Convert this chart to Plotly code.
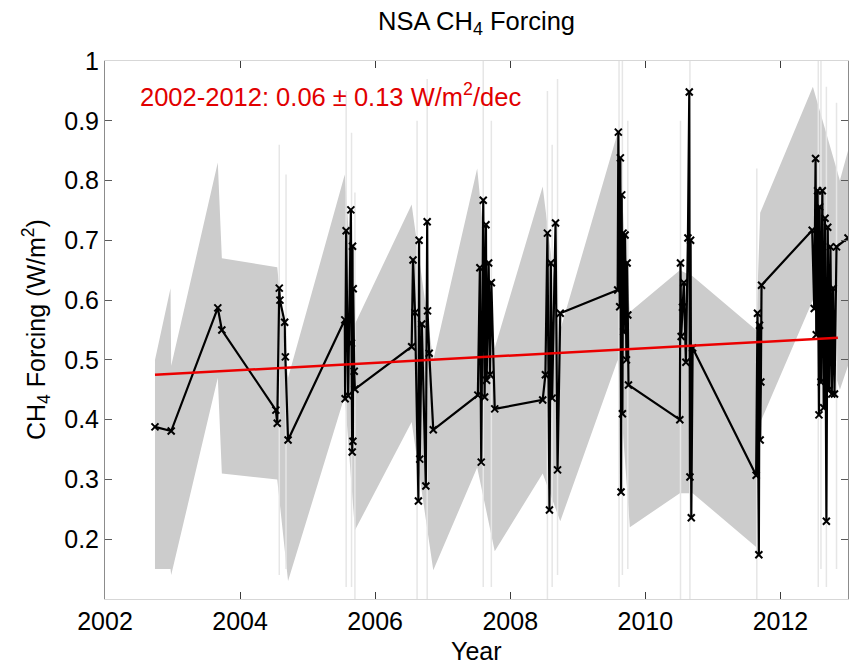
import plotly.graph_objects as go

# ---------------- data ----------------
# black series (year, CH4 forcing W/m2)
years = [2002.74, 2002.98, 2003.67, 2003.73, 2004.53, 2004.55, 2004.58, 2004.59, 2004.66, 2004.67, 2004.71,
         2005.55, 2005.555, 2005.57, 2005.60, 2005.64, 2005.65, 2005.66, 2005.665, 2005.67, 2005.675, 2005.69, 2005.70,
         2006.54, 2006.56, 2006.59, 2006.64, 2006.65, 2006.66, 2006.69, 2006.75, 2006.77, 2006.775, 2006.80, 2006.86,
         2007.52, 2007.55, 2007.57, 2007.60, 2007.62, 2007.64, 2007.65, 2007.68, 2007.70, 2007.72, 2007.77,
         2008.48, 2008.52, 2008.55, 2008.58, 2008.60, 2008.62, 2008.67, 2008.70, 2008.74,
         2009.59, 2009.60, 2009.62, 2009.63, 2009.64, 2009.65, 2009.66, 2009.67, 2009.68, 2009.70, 2009.72, 2009.73, 2009.74, 2009.75,
         2010.51, 2010.52, 2010.53, 2010.55, 2010.57, 2010.60, 2010.63, 2010.65, 2010.66, 2010.67, 2010.68, 2010.70,
         2011.64, 2011.66, 2011.68, 2011.69, 2011.70, 2011.71, 2011.72,
         2012.47, 2012.50, 2012.52, 2012.53, 2012.55, 2012.57, 2012.58, 2012.60, 2012.62, 2012.64, 2012.66, 2012.68,
         2012.70, 2012.72, 2012.74, 2012.76, 2012.78, 2012.80, 2012.83, 2013.00]
forcing = [0.388, 0.381, 0.587, 0.550, 0.416, 0.394, 0.620, 0.600, 0.563, 0.505, 0.366,
           0.567, 0.435, 0.716, 0.440, 0.751, 0.528, 0.346, 0.690, 0.364, 0.619, 0.481, 0.451,
           0.522, 0.667, 0.579, 0.264, 0.700, 0.334, 0.560, 0.289, 0.731, 0.582, 0.511, 0.383,
           0.441, 0.654, 0.329, 0.767, 0.438, 0.726, 0.466, 0.662, 0.475, 0.629, 0.418,
           0.433, 0.475, 0.712, 0.249, 0.662, 0.436, 0.729, 0.316, 0.578,
           0.617, 0.881, 0.589, 0.838, 0.279, 0.776, 0.410, 0.712, 0.547, 0.709, 0.500, 0.662, 0.575, 0.458,
           0.400, 0.662, 0.539, 0.588, 0.629, 0.496, 0.704, 0.948, 0.304, 0.700, 0.236, 0.520,
           0.307, 0.578, 0.174, 0.558, 0.366, 0.463, 0.625,
           0.717, 0.586, 0.837, 0.542, 0.783, 0.408, 0.756, 0.463, 0.783, 0.420, 0.737, 0.230,
           0.722, 0.450, 0.689, 0.443, 0.620, 0.443, 0.689, 0.704]

# grey uncertainty envelope
band_years = [2002.74, 2002.97, 2002.98, 2003.67, 2003.73, 2004.55, 2004.71, 2005.55, 2005.70, 2006.54,
              2006.86, 2007.51, 2007.77, 2008.48, 2008.74, 2009.59, 2009.77, 2010.51, 2010.70, 2011.64,
              2011.70, 2012.48, 2012.88, 2013.00]
band_low = [0.15, 0.15, 0.14, 0.47, 0.31, 0.30, 0.13, 0.44, 0.215, 0.396,
            0.148, 0.32, 0.18, 0.31, 0.23, 0.50, 0.22, 0.277, 0.277, 0.187,
            0.395, 0.60, 0.45, 0.49]
band_high = [0.50, 0.62, 0.49, 0.83, 0.67, 0.655, 0.47, 0.81, 0.56, 0.76,
             0.50, 0.82, 0.52, 0.79, 0.55, 0.88, 0.58, 0.65, 0.64, 0.55,
             0.746, 0.957, 0.80, 0.85]

# faint individual-retrieval spikes
spike_years = [2004.58, 2004.68, 2005.57, 2005.65, 2005.70, 2006.62, 2006.77, 2007.60, 2007.72,
               2008.55, 2008.62, 2008.70, 2009.61, 2009.66, 2009.74, 2010.52, 2010.66, 2011.65,
               2012.56, 2012.60, 2012.68, 2012.83]
spike_low = [0.14, 0.15, 0.12, 0.12, 0.10, 0.10, 0.10, 0.12, 0.12,
             0.10, 0.12, 0.14, 0.12, 0.14, 0.15, 0.10, 0.10, 0.10,
             0.12, 0.15, 0.12, 0.15]
spike_high = [0.86, 0.81, 0.95, 0.88, 0.78, 0.90, 0.97, 1.00, 0.90,
              0.95, 0.86, 0.97, 1.00, 1.00, 0.90, 0.90, 1.00, 0.82,
              1.00, 1.00, 0.957, 0.93]

# trend line
trend_years = [2002.74, 2012.85]
trend_vals = [0.475, 0.537]

x_ticks = [2002, 2004, 2006, 2008, 2010, 2012]
y_ticks = [0.2, 0.3, 0.4, 0.5, 0.6, 0.7, 0.8, 0.9, 1.0]
y_tick_text = ["0.2", "0.3", "0.4", "0.5", "0.6", "0.7", "0.8", "0.9", "1"]

# ---------------- figure ----------------
FONT = "Liberation Sans, Arial, Helvetica, sans-serif"
fig = go.Figure()

poly_x = band_years + band_years[::-1]
poly_y = band_high + band_low[::-1]
fig.add_trace(go.Scatter(x=poly_x, y=poly_y, fill="toself", fillcolor="rgb(204,204,204)",
                         mode="lines", line=dict(width=0, color="rgb(204,204,204)"),
                         hoverinfo="skip", showlegend=False))

sx, sy = [], []
for xv, lo, hi in zip(spike_years, spike_low, spike_high):
    sx += [xv, xv, None]
    sy += [lo, hi, None]
fig.add_trace(go.Scatter(x=sx, y=sy, mode="lines", line=dict(color="rgb(230,230,230)", width=1.5),
                         hoverinfo="skip", showlegend=False))

fig.add_trace(go.Scatter(x=years, y=forcing, mode="lines+markers",
                         line=dict(color="black", width=2.2),
                         marker=dict(symbol="x-thin", size=7, line=dict(color="black", width=2)),
                         showlegend=False))

fig.add_trace(go.Scatter(x=trend_years, y=trend_vals, mode="lines",
                         line=dict(color="rgb(235,0,0)", width=2.5), showlegend=False))

fig.update_layout(
    width=856, height=664,
    margin=dict(l=105, r=8, t=61, b=65, autoexpand=False),
    paper_bgcolor="white", plot_bgcolor="white",
    font=dict(family=FONT, size=25, color="black"),
    title=dict(text="NSA CH<sub>4</sub> Forcing", x=0.5 * (105 + 848) / 856, xanchor="center",
               y=1 - 21 / 664, yanchor="middle", font=dict(size=25.5)),
    showlegend=False,
)
fig.update_xaxes(range=[2002, 2013], tickvals=x_ticks, ticktext=[str(v) for v in x_ticks],
                 automargin=False,
                 showgrid=False, zeroline=False, showline=True, linecolor="rgb(215,215,215)", linewidth=1,
                 mirror="ticks", ticks="inside", ticklen=7, tickcolor="rgb(60,60,60)",
                 tickfont=dict(size=25))
fig.update_yaxes(range=[0.1, 1.0], tickvals=y_ticks, ticktext=y_tick_text,
                 automargin=False,
                 showgrid=False, zeroline=False, showline=True, linecolor="rgb(140,140,140)", linewidth=1,
                 mirror="ticks", ticks="inside", ticklen=7, tickcolor="rgb(90,90,90)",
                 tickfont=dict(size=25))

fig.add_annotation(text="2002-2012: 0.06 ± 0.13 W/m<sup>2</sup>/dec", xref="paper", yref="y",
                   x=(138 - 105) / 743, y=0.943, xanchor="left", yanchor="middle", showarrow=False,
                   font=dict(size=25.5, color="rgb(225,0,0)", family=FONT))
fig.add_annotation(text="CH<sub>4</sub> Forcing (W/m<sup>2</sup>)", xref="paper", yref="paper",
                   x=(36 - 105) / 743, y=0.5, xanchor="center", yanchor="middle", textangle=-90,
                   showarrow=False, font=dict(size=25, family=FONT))
fig.add_annotation(text="Year", xref="paper", yref="paper",
                   x=(476 - 105) / 743, y=(599 - 651) / 538, xanchor="center", yanchor="middle",
                   showarrow=False, font=dict(size=25, family=FONT))

fig.write_html("out.html", config={"displayModeBar": False},
               post_script="document.body.style.margin='0';document.body.style.overflow='hidden';")
